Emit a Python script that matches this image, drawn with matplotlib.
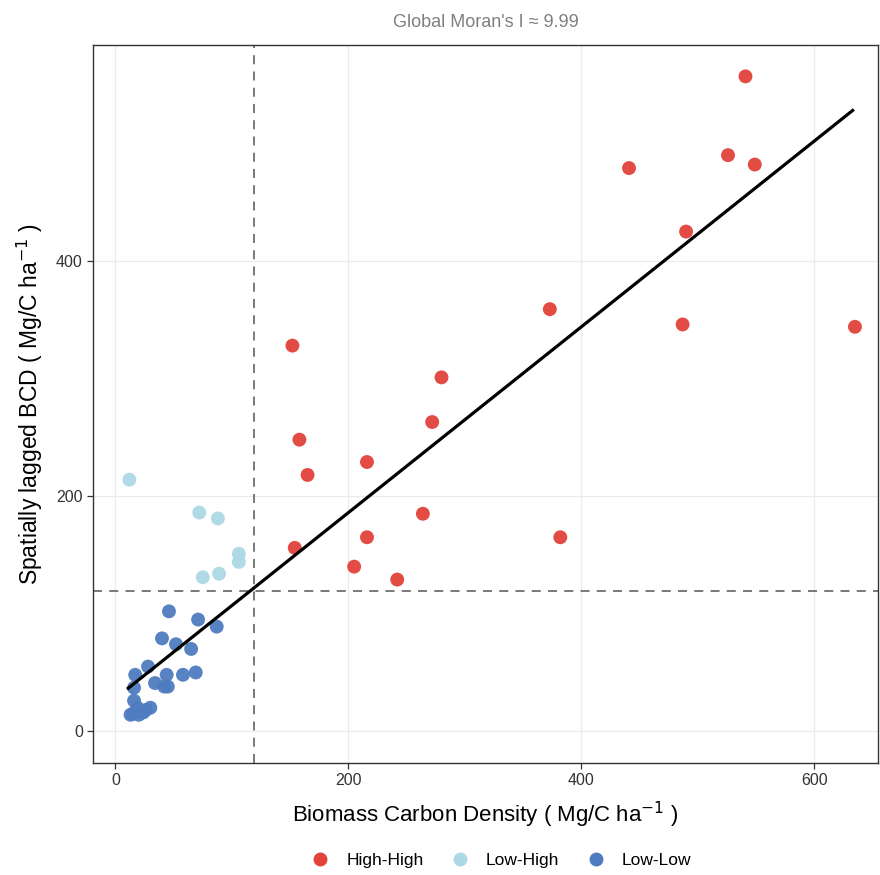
import numpy as np
import matplotlib.pyplot as plt
from matplotlib.lines import Line2D

plt.rcParams['font.family'] = ['Liberation Sans', 'DejaVu Sans']

# High-High cluster
hh_x = [541, 441, 526, 549, 490, 373, 487, 635, 152, 280, 272, 158, 165, 216,
        264, 216, 382, 154, 205, 242]
hh_y = [557, 479, 490, 482, 425, 359, 346, 344, 328, 301, 263, 248, 218, 229,
        185, 165, 165, 156, 140, 129]

# Low-High
lh_x = [12, 72, 88, 106, 106, 75, 89]
lh_y = [214, 186, 181, 151, 144, 131, 134]

# Low-Low
ll_x = [46, 71, 87, 40, 52, 65, 28, 17, 44, 58, 69, 34, 45, 42, 16,
        16, 19, 30, 15, 24, 20, 13, 26]
ll_y = [102, 95, 89, 79, 74, 70, 55, 48, 48, 48, 50, 41, 38, 38, 37,
        26, 20, 20, 15, 16, 14, 14, 18]

# mean BCD (dashed cross) and fitted line
mean_bcd = 119
mean_lag = 119
fit_x = [11, 633]
fit_y = [36.6, 528]

moran_i = 9.99
labels = ['High-High', 'Low-High', 'Low-Low']
colors = ['#E2423A', '#ADD8E6', '#4F7CC0']

fig = plt.figure(figsize=(8.8, 8.75), dpi=100)
ax = fig.add_axes([0.106, 0.128, 0.892, 0.821])

ax.grid(True, color='#EBEBEB', lw=0.9, zorder=0)
ax.set_axisbelow(True)

ax.axvline(mean_bcd, color='#6E6E6E', ls=(0, (5, 4)), lw=1.3, zorder=1)
ax.axhline(mean_lag, color='#6E6E6E', ls=(0, (5, 4)), lw=1.3, zorder=1)

for xs, ys, c in zip([hh_x, lh_x, ll_x], [hh_y, lh_y, ll_y], colors):
    ax.scatter(xs, ys, s=100, color=c, edgecolors='none', alpha=0.95, zorder=2)

ax.plot(fit_x, fit_y, color='black', lw=2.3, zorder=3)

ax.set_xlim(-19, 655)
ax.set_ylim(-27, 584)
ax.set_xticks([0, 200, 400, 600])
ax.set_yticks([0, 200, 400])
ax.tick_params(labelsize=11.5, colors='#333333', length=4, width=0.9, labelcolor='#333333')
for sp in ax.spines.values():
    sp.set_color('#333333')
    sp.set_linewidth(1.0)

ax.set_xlabel('Biomass Carbon Density ( Mg/C ha$^{-1}$ )', fontsize=16, labelpad=8)
ax.set_ylabel('Spatially lagged BCD ( Mg/C ha$^{-1}$ )', fontsize=16.5, labelpad=8)
ax.set_title("Global Moran's I \u2248 %.2f" % moran_i, fontsize=13, color='#7F7F7F', pad=13)

handles = [Line2D([], [], marker='o', ls='none', color=c, markersize=9) for c in colors]
fig.legend(handles, labels, loc='lower center', bbox_to_anchor=(0.565, -0.01), ncol=3,
           frameon=False, fontsize=12.5, handletextpad=0.5, columnspacing=1.1)

fig.savefig('out.png', dpi=100)
